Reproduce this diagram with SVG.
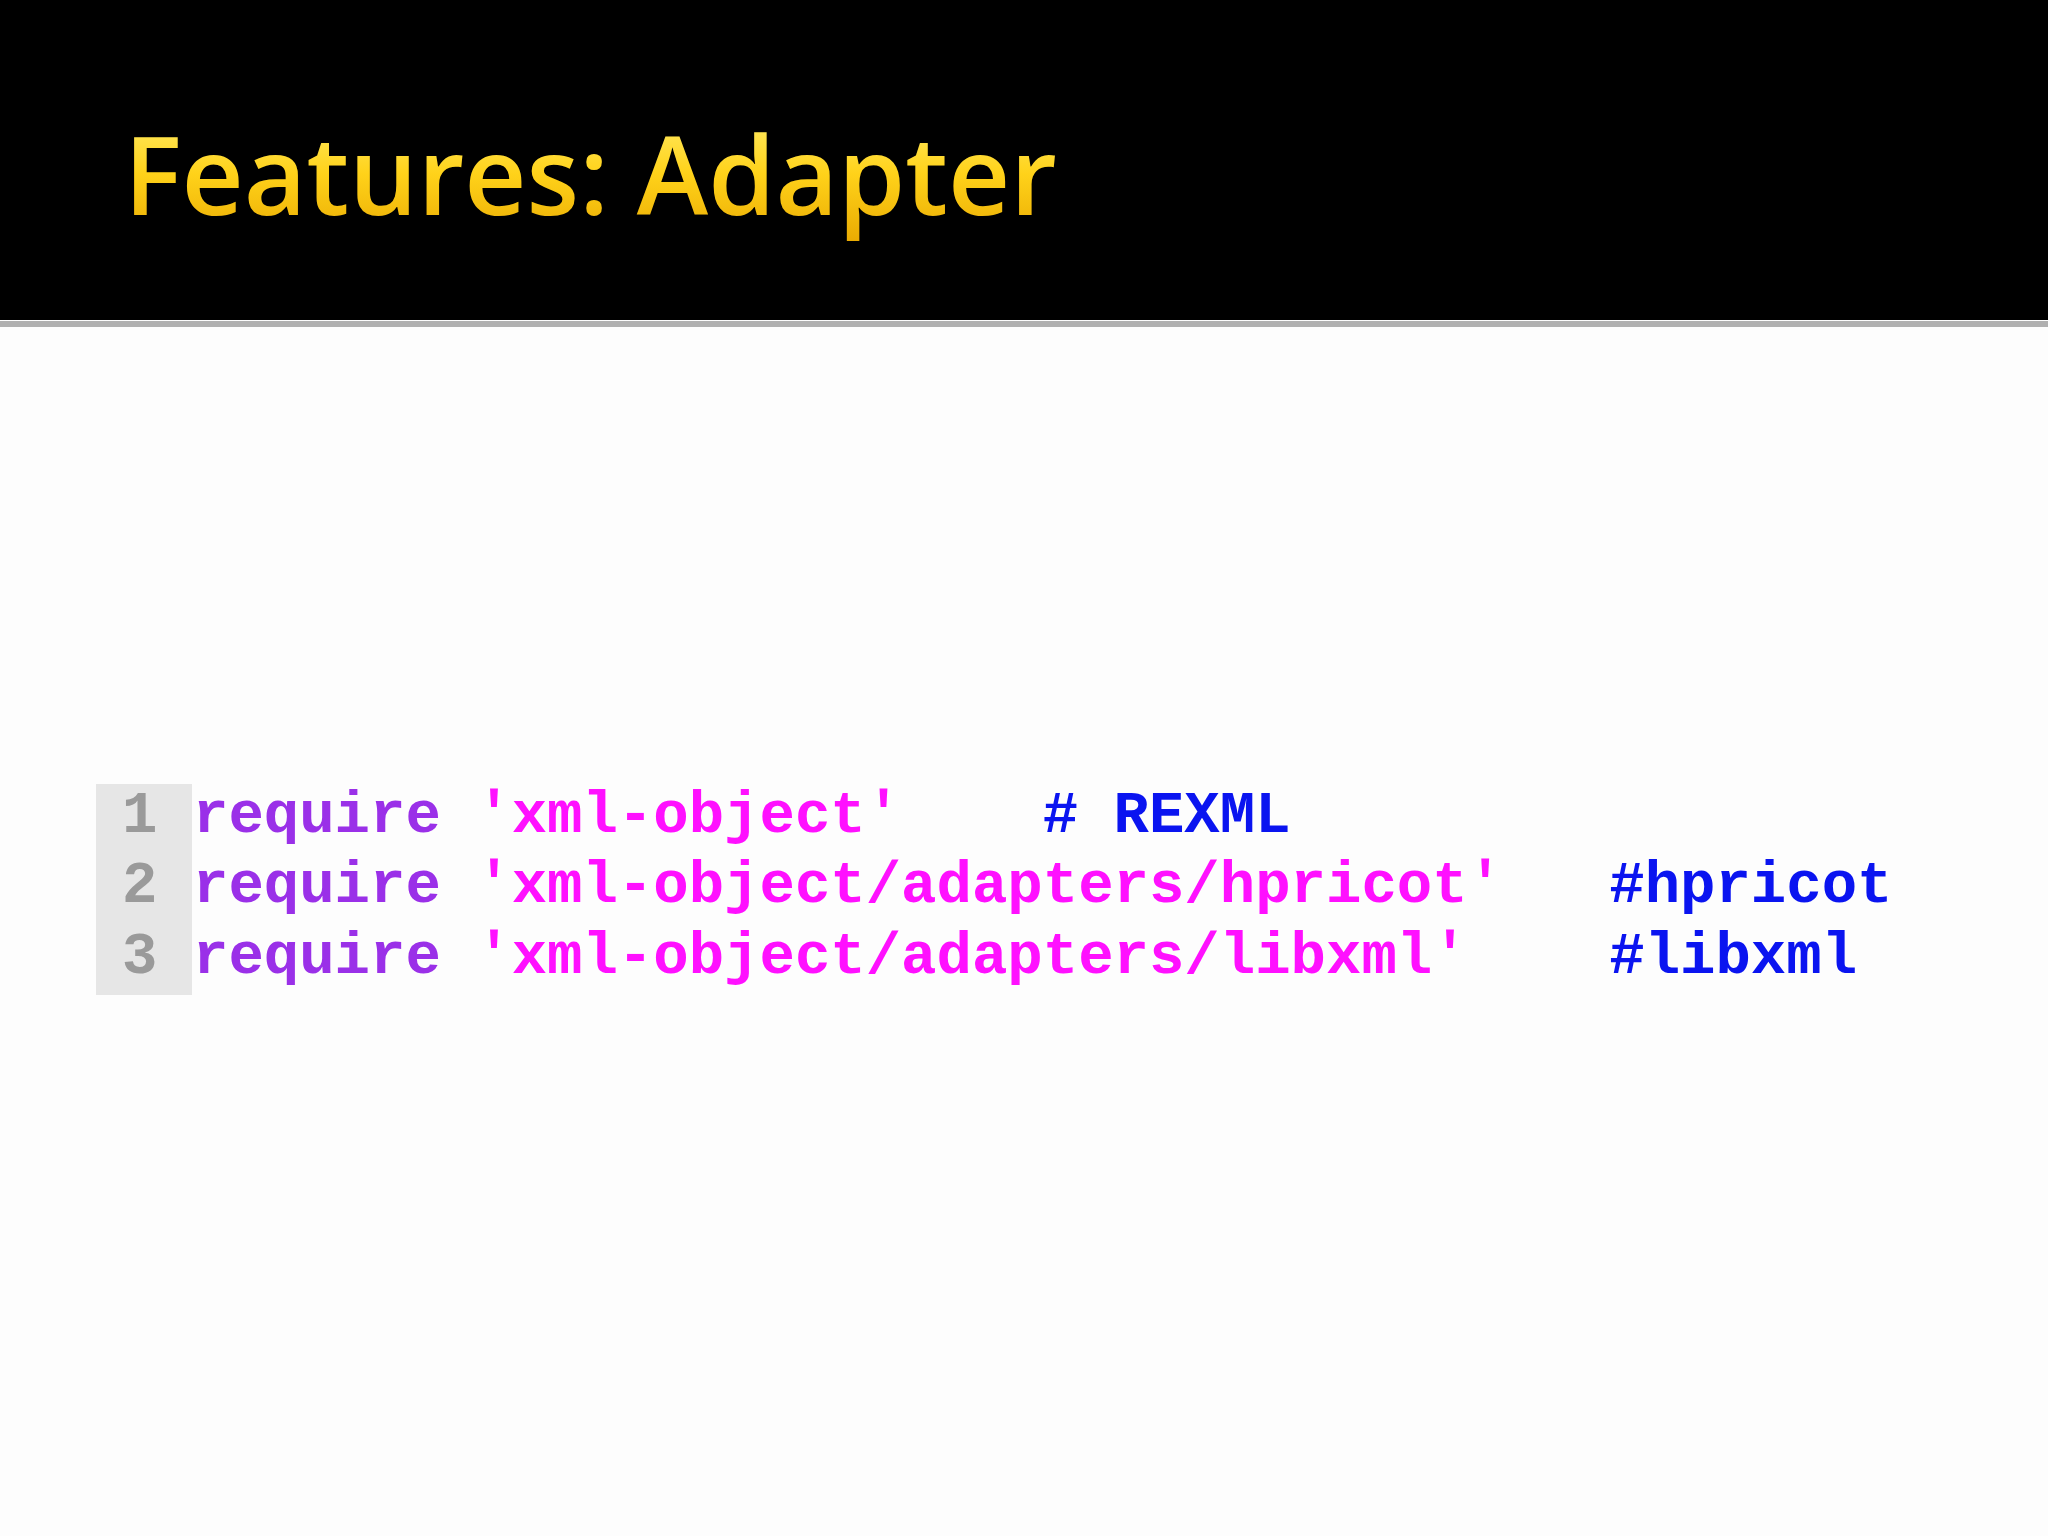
<svg xmlns="http://www.w3.org/2000/svg" width="2048" height="1536" viewBox="0 0 2048 1536">
<defs>
<linearGradient id="gold" x1="0" y1="0" x2="0" y2="1">
<stop offset="0" stop-color="#fff176"/><stop offset="0.5" stop-color="#ffd21a"/><stop offset="1" stop-color="#e8a800"/>
</linearGradient>
</defs>
<style>
.code{font-family:"Liberation Mono","DejaVu Sans Mono",monospace;font-size:59px;font-weight:bold;white-space:pre}
.kw{fill:#9a30e8}.str{fill:#ff10ff}.cm{fill:#0a14f0}.num{fill:#9a9a9a}
</style>
<rect width="2048" height="1536" fill="#fdfdfd"/>
<g id="header">
<rect width="2048" height="320" fill="#000"/>
<rect y="321" width="2048" height="6" fill="#b0b0b0"/>
<text x="124" y="215" font-family="Open Sans, Liberation Sans, sans-serif" font-size="108" font-weight="600" fill="url(#gold)">Features: Adapter</text>
</g>
<g id="code">
<rect x="96" y="784" width="96" height="211" fill="#e6e6e6"/>
<text class="code" xml:space="preserve"><tspan x="122" y="832" class="num">1</tspan><tspan x="193" y="832"><tspan class="kw">require</tspan> <tspan class="str">'xml-object'</tspan>    <tspan class="cm"># REXML</tspan></tspan></text>
<text class="code" xml:space="preserve"><tspan x="122" y="902" class="num">2</tspan><tspan x="193" y="902"><tspan class="kw">require</tspan> <tspan class="str">'xml-object/adapters/hpricot'</tspan>   <tspan class="cm">#hpricot</tspan></tspan></text>
<text class="code" xml:space="preserve"><tspan x="122" y="973" class="num">3</tspan><tspan x="193" y="973"><tspan class="kw">require</tspan> <tspan class="str">'xml-object/adapters/libxml'</tspan>    <tspan class="cm">#libxml</tspan></tspan></text>
</g>
</svg>
